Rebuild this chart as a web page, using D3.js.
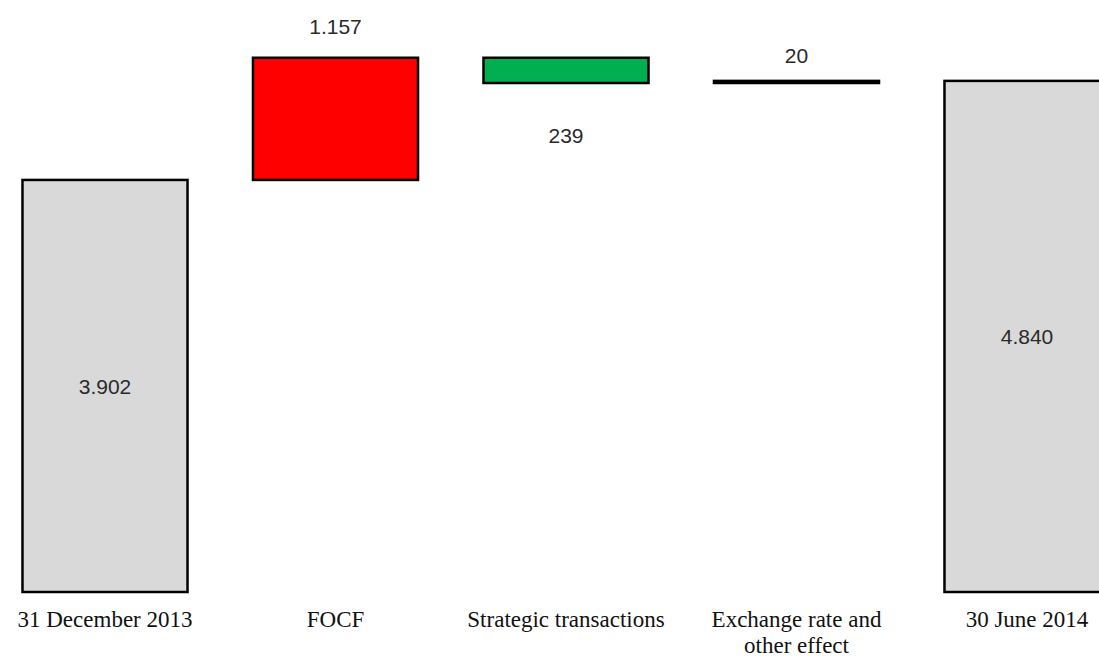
<!DOCTYPE html>
<html>
<head>
<meta charset="utf-8">
<script src="https://cdnjs.cloudflare.com/ajax/libs/d3/7.8.5/d3.min.js"></script>
<style>
  html, body { margin: 0; padding: 0; background: #fff; overflow: hidden; }
  svg { display: block; }
</style>
</head>
<body>
<svg id="chart" width="1099" height="657"></svg>
<script>
// ---- data ----
const categories = ["31 December 2013", "FOCF", "Strategic transactions", "Exchange rate and\nother effect", "30 June 2014"];
const kinds = ["total", "increase", "decrease", "increase", "total"];
const values = [3902, 1157, -239, 20, 4840];
const valueLabels = ["3.902", "1.157", "239", "20", "4.840"];
const colors = { total: "#d9d9d9", increase: "#ff0000", decrease: "#00b050" };

// compute waterfall start/end
let running = 0;
const bars = categories.map((c, i) => {
  let start, end;
  if (kinds[i] === "total") { start = 0; end = values[i]; running = values[i]; }
  else { start = running; end = running + values[i]; running = end; }
  return { cat: c, kind: kinds[i], value: values[i], label: valueLabels[i], start, end, idx: i };
});

const svg = d3.select("#chart");

const x = d3.scaleBand()
  .domain(categories)
  .range([-10.25, 1142.25])
  .paddingInner(0.284)
  .paddingOuter(0.142);

const y = d3.scaleLinear()
  .domain([0, 5606])
  .range([592, 0]);

const g = svg.append("g");

g.selectAll("rect.bar")
  .data(bars)
  .join("rect")
  .attr("class", "bar")
  .attr("x", d => x(d.cat))
  .attr("width", x.bandwidth())
  .attr("y", d => y(Math.max(d.start, d.end)))
  .attr("height", d => Math.abs(y(d.start) - y(d.end)))
  .attr("fill", d => (d.idx === 3 ? "#000" : colors[d.kind]))
  .attr("stroke", "#000")
  .attr("stroke-width", 2.5);

// value labels
g.selectAll("text.val")
  .data(bars)
  .join("text")
  .attr("class", "val")
  .attr("x", d => x(d.cat) + x.bandwidth() / 2)
  .attr("y", d => {
    if (d.kind === "total") return (y(d.start) + y(d.end)) / 2 + 8;
    if (d.kind === "decrease") return y(Math.min(d.start, d.end)) + 60;
    return y(Math.max(d.start, d.end)) - (d.idx === 3 ? 18 : 24);
  })
  .attr("text-anchor", "middle")
  .attr("font-family", "'Liberation Sans', Arial, sans-serif")
  .attr("font-size", 21)
  .attr("fill", "#2a2a2a")
  .text(d => d.label);

// category axis
const axis = d3.axisBottom(x).tickSize(0).tickPadding(0);
const ax = svg.append("g")
  .attr("transform", "translate(0,592)")
  .call(axis);
ax.select(".domain").remove();
ax.selectAll(".tick text").each(function(d) {
  const t = d3.select(this);
  const lines = d.split("\n");
  t.text(null)
    .attr("y", 0)
    .attr("dy", null)
    .attr("font-family", "'Liberation Serif', 'Times New Roman', serif")
    .attr("font-size", 23)
    .attr("fill", "#111");
  lines.forEach((ln, i) => {
    t.append("tspan").attr("x", 0).attr("y", 35 + i * 25.5).text(ln);
  });
});
</script>
</body>
</html>
